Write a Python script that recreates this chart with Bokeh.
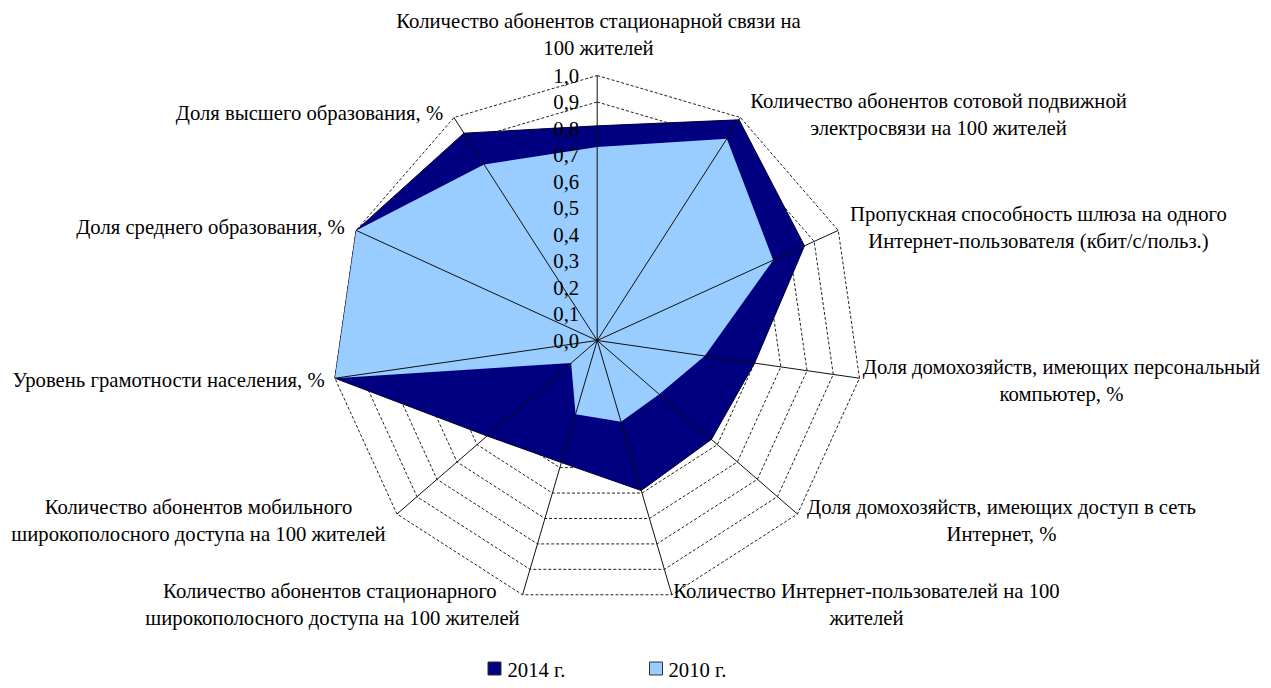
import numpy as np
from bokeh.plotting import figure
from bokeh.models import Range1d
from bokeh.core.properties import value
from bokeh.embed import file_html
from bokeh.resources import INLINE

# ---------------- data ----------------
categories = [
    ["Количество абонентов стационарной связи на", "100 жителей"],
    ["Количество абонентов сотовой подвижной", "электросвязи на 100 жителей"],
    ["Пропускная способность шлюза на одного", "Интернет-пользователя (кбит/с/польз.)"],
    ["Доля домохозяйств, имеющих персональный", "компьютер, %"],
    ["Доля домохозяйств, имеющих доступ в сеть", "Интернет, %"],
    ["Количество Интернет-пользователей на 100", "жителей"],
    ["Количество абонентов  стационарного", "широкополосного доступа на 100 жителей"],
    ["Количество абонентов мобильного", "широкополосного доступа на 100 жителей"],
    ["Уровень грамотности населения, %"],
    ["Доля среднего образования, %"],
    ["Доля высшего образования, %"],
]
values_2014 = [0.81, 0.99, 0.86, 0.60, 0.57, 0.59, 0.48, 0.55, 1.0, 1.0, 0.93]
values_2010 = [0.73, 0.905, 0.73, 0.41, 0.31, 0.32, 0.29, 0.13, 1.0, 1.0, 0.79]
series_names = ["2014 г.", "2010 г."]
ticks = [0.0, 0.1, 0.2, 0.3, 0.4, 0.5, 0.6, 0.7, 0.8, 0.9, 1.0]
tick_labels = ["0,0", "0,1", "0,2", "0,3", "0,4", "0,5", "0,6", "0,7", "0,8", "0,9", "1,0"]

# ---------------- layout ----------------
W, H = 1263, 680
R = 265.0              # pixels per unit radius
CX, CY = 596.7, 340.0  # centre in picture coordinates
ORIGIN = 0             # picture offset of the canvas


def ux(sx):
    return (sx - CX) / R


def uy(sy):
    return (CY - sy) / R


# label anchors (picture px): centre x, first line centre y
label_pos = [
    (598, 20), (938, 100), (1038, 213), (1061, 366), (1001, 506), (866, 590),
    (332, 590), (198, 506), (168, 379), (210, 226), (309, 112),
]
LINE_STEP = 27

FONT = value("Liberation Serif")
FS = "20.7px"
DARK = "#000080"
LIGHT = "#99CCFF"

n = len(values_2014)
theta = np.pi / 2 - np.arange(n) * 2 * np.pi / n
cos_t, sin_t = np.cos(theta), np.sin(theta)

p = figure(width=W, height=H, output_backend="svg", toolbar_location=None,
           x_range=Range1d(ux(ORIGIN), ux(ORIGIN + W)),
           y_range=Range1d(uy(ORIGIN + H), uy(ORIGIN)),
           min_border=0, outline_line_color=None)
p.axis.visible = False
p.grid.visible = False
p.background_fill_color = "white"
p.border_fill_color = "white"

# dashed rings
ring_xs, ring_ys = [], []
for t in ticks[1:]:
    ring_xs.append(list(t * np.append(cos_t, cos_t[0])))
    ring_ys.append(list(t * np.append(sin_t, sin_t[0])))
p.multi_line(ring_xs, ring_ys, line_color="#222222", line_width=1, line_dash="3 2")

# series polygons
v14 = np.array(values_2014)
v10 = np.array(values_2010)
p.patch(v14 * cos_t, v14 * sin_t, fill_color=DARK, line_color="#000033", line_width=1)
p.patch(v10 * cos_t, v10 * sin_t, fill_color=LIGHT, line_color=None)

# spokes
p.segment(x0=np.zeros(n), y0=np.zeros(n), x1=cos_t, y1=sin_t,
          line_color="#111111", line_width=1)

# tick labels along the top spoke
p.text(x=[ux(CX - 18)] * len(ticks), y=ticks, text=tick_labels,
       text_font=FONT, text_font_size=FS, text_color="black",
       text_align="right", text_baseline="middle")

# category labels
lx, ly, lt = [], [], []
for lines, (cx, cy) in zip(categories, label_pos):
    for k, line in enumerate(lines):
        lx.append(ux(cx))
        ly.append(uy(cy + k * LINE_STEP))
        lt.append(line)
p.text(x=lx, y=ly, text=lt, text_font=FONT, text_font_size=FS,
       text_color="black", text_align="center", text_baseline="middle")

# legend
leg_y = 668
p.scatter(x=[ux(494), ux(655.5)], y=[uy(leg_y), uy(leg_y)], marker="square",
          size=13, fill_color=[DARK, LIGHT], line_color="#333333", line_width=1)
p.text(x=[ux(507), ux(668)], y=[uy(leg_y + 1), uy(leg_y + 1)], text=series_names,
       text_font=FONT, text_font_size=FS, text_color="black",
       text_align="left", text_baseline="middle")

open("out.html", "w").write(file_html(p, INLINE))
